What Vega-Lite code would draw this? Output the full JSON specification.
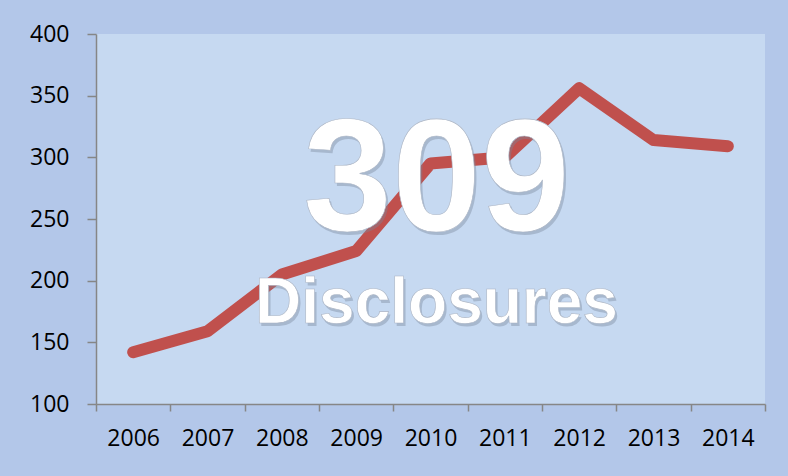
{
  "$schema": "https://vega.github.io/schema/vega-lite/v6.json",
  "width": 669,
  "height": 370,
  "autosize": {"type": "none"},
  "padding": {"left": 96, "top": 34, "right": 23, "bottom": 72},
  "background": "#B3C7E9",
  "config": {
    "view": {"fill": "#C6D9F1", "stroke": null},
    "axis": {
      "labelFont": "Open Sans",
      "labelFontSize": 23,
      "labelColor": "#000000",
      "domainColor": "#868686",
      "tickColor": "#868686",
      "domainWidth": 1.5,
      "tickWidth": 1.5,
      "grid": false,
      "title": null
    }
  },
  "datasets": {
    "counts": [
      {"year": "2006", "disclosures": 142},
      {"year": "2007", "disclosures": 159},
      {"year": "2008", "disclosures": 205},
      {"year": "2009", "disclosures": 224},
      {"year": "2010", "disclosures": 295},
      {"year": "2011", "disclosures": 300},
      {"year": "2012", "disclosures": 356},
      {"year": "2013", "disclosures": 314},
      {"year": "2014", "disclosures": 309}
    ],
    "labels": [
      {"year": "2010", "pos": 241, "label": "309", "size": 160},
      {"year": "2010", "pos": 166, "label": "Disclosures", "size": 64}
    ]
  },
  "layer": [
    {
      "data": {"name": "counts"},
      "mark": {"type": "line", "color": "#C0504D", "strokeWidth": 12, "strokeCap": "round", "strokeJoin": "round"},
      "encoding": {
        "x": {
          "field": "year", "type": "ordinal",
          "scale": {"type": "band", "paddingInner": 0, "paddingOuter": 0},
          "axis": {"labelAngle": 0, "tickBand": "extent", "tickSize": 7, "labelPadding": 16}
        },
        "y": {
          "field": "disclosures", "type": "quantitative",
          "scale": {"domain": [100, 400], "nice": false, "zero": false},
          "axis": {"values": [100, 150, 200, 250, 300, 350, 400], "tickSize": 9, "labelPadding": 18}
        }
      }
    },
    {
      "data": {"name": "labels"},
      "mark": {"type": "text", "font": "Liberation Sans", "fontWeight": "bold", "align": "center", "baseline": "alphabetic", "fill": "#7A879C", "opacity": 0.4, "dx": 8, "dy": 3},
      "encoding": {
        "x": {"field": "year", "type": "ordinal"},
        "y": {"field": "pos", "type": "quantitative"},
        "text": {"field": "label"},
        "size": {"field": "size", "type": "quantitative", "scale": null}
      }
    },
    {
      "data": {"name": "labels"},
      "mark": {"type": "text", "font": "Liberation Sans", "fontWeight": "bold", "align": "center", "baseline": "alphabetic", "fill": "#FFFFFF", "stroke": "#AAB4C4", "strokeWidth": 0.6, "dx": 6},
      "encoding": {
        "x": {"field": "year", "type": "ordinal"},
        "y": {"field": "pos", "type": "quantitative"},
        "text": {"field": "label"},
        "size": {"field": "size", "type": "quantitative", "scale": null}
      }
    }
  ]
}
